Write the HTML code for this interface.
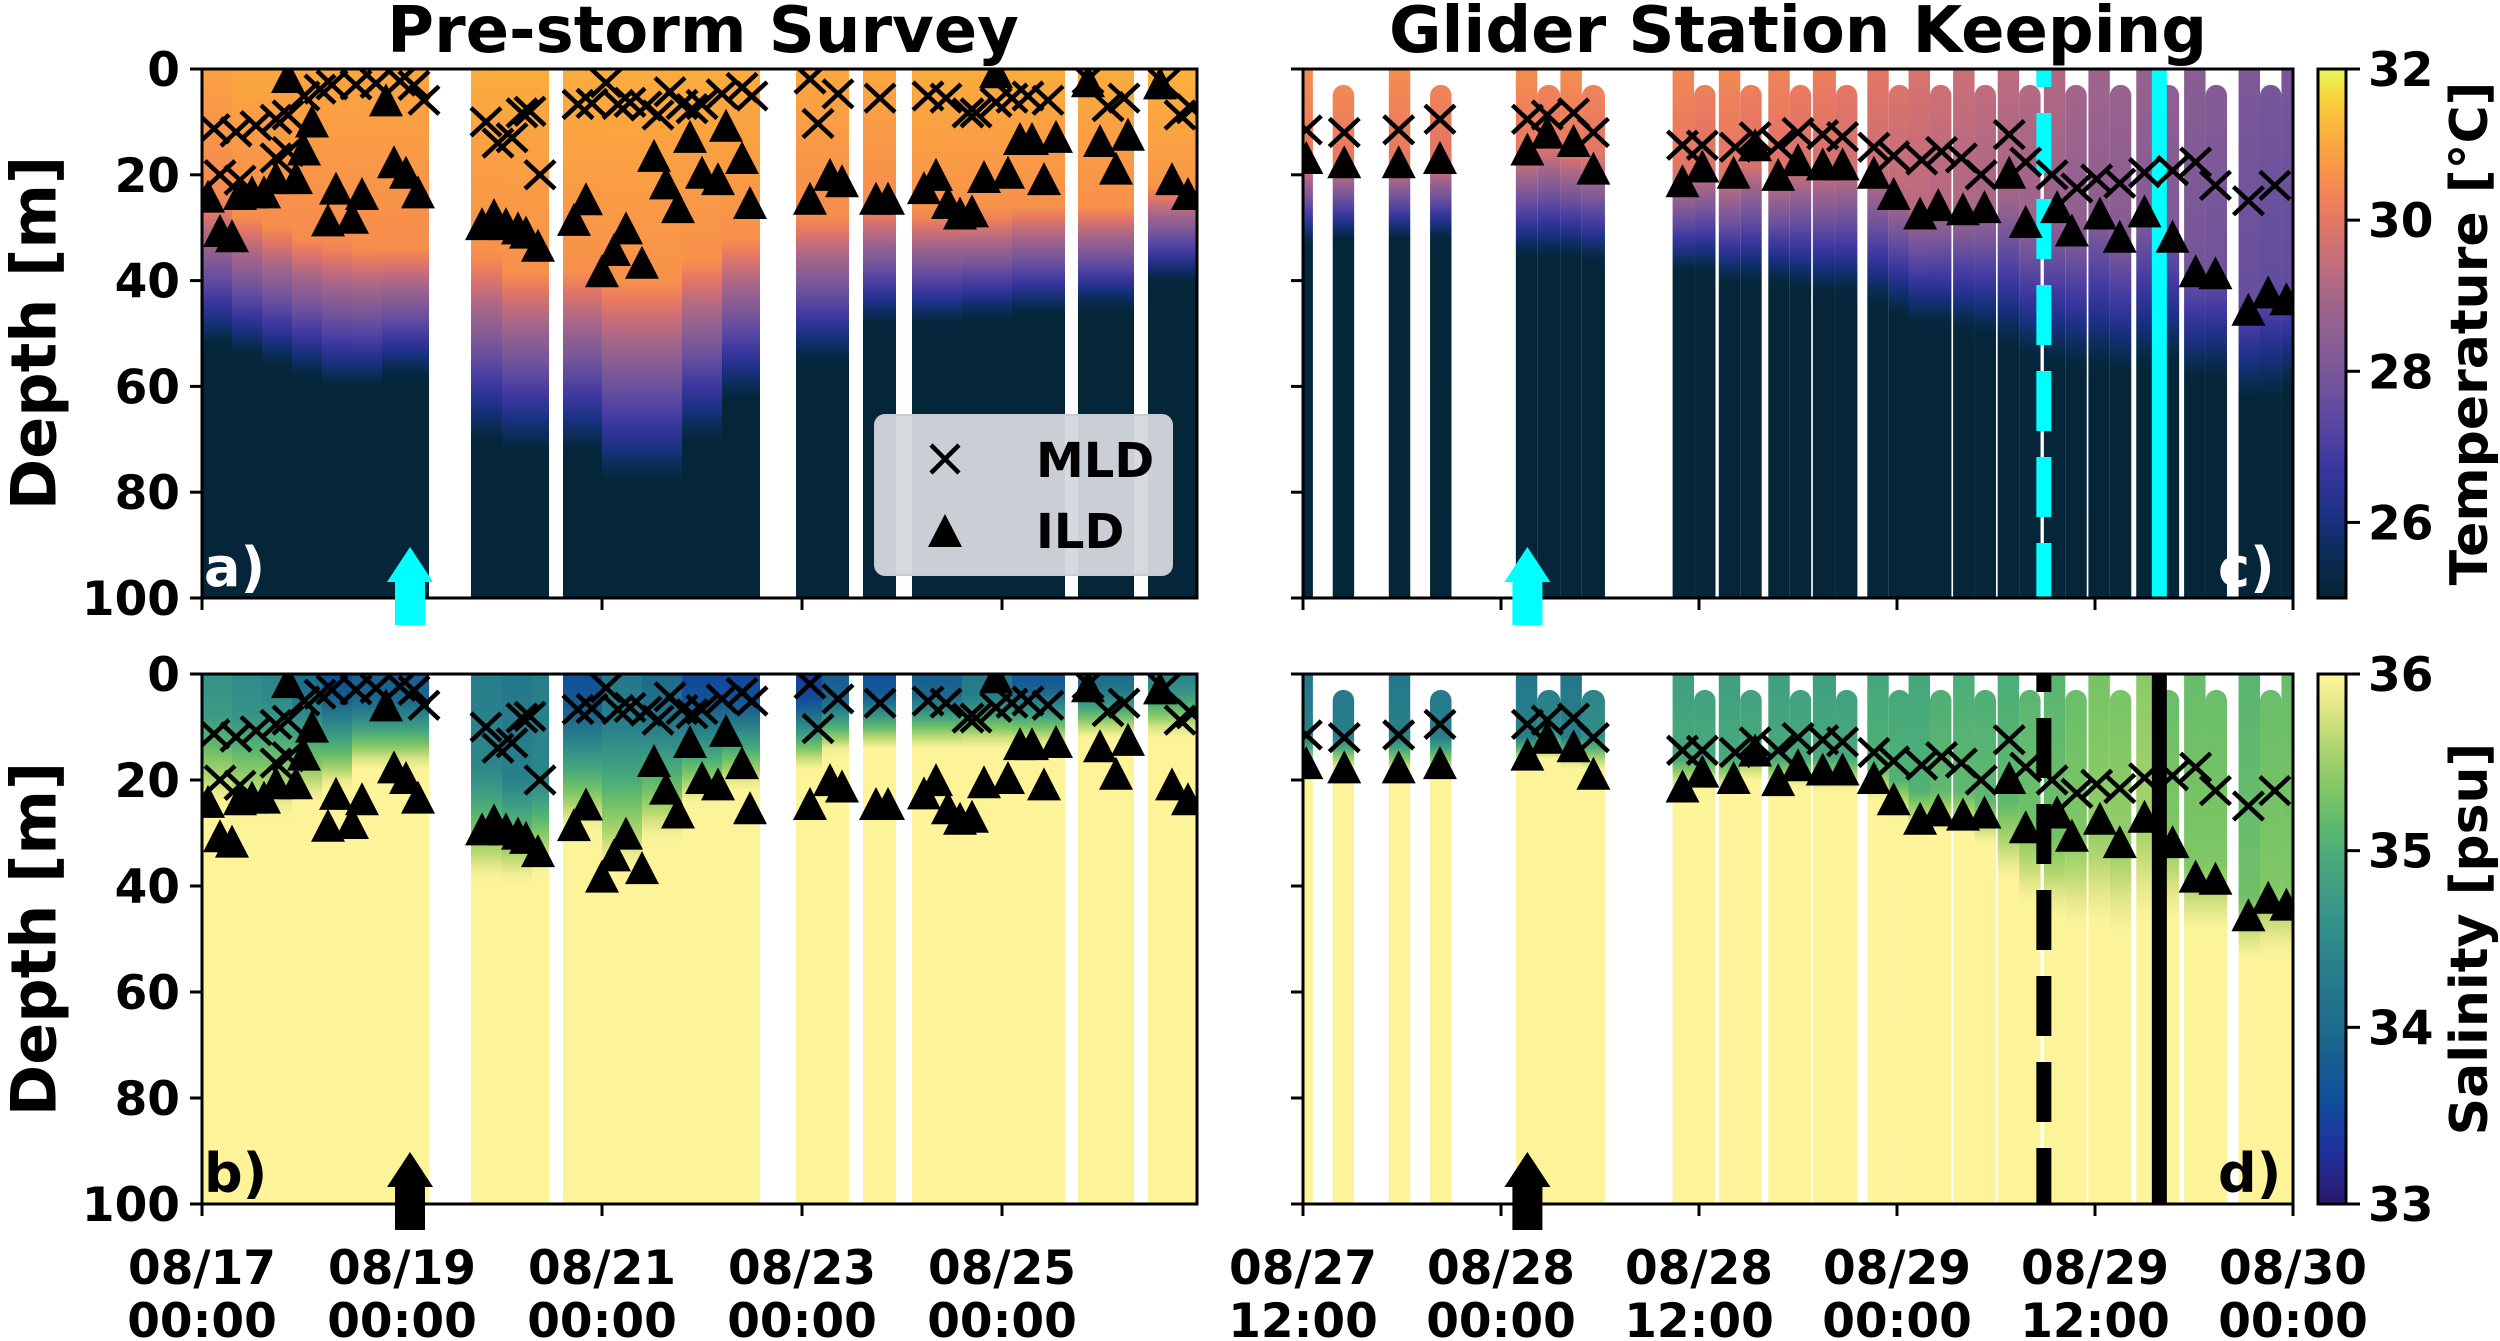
<!DOCTYPE html>
<html><head><meta charset="utf-8">
<style>
html,body{margin:0;padding:0;background:#fff;}
svg{display:block;font-family:"DejaVu Sans","Liberation Sans",sans-serif;font-weight:bold;}
</style></head>
<body>
<svg id="chart" width="2500" height="1341" viewBox="0 0 2500 1341" xmlns="http://www.w3.org/2000/svg">
<defs id="defs"></defs>
</svg>
<script>
// ---------- DATA ----------
const aStart = [0,0.3,0.6,0.9,1.2,1.5,1.8,2.1, 2.69,3.0,3.3, 3.61,4.0,4.4,4.8,5.2, 5.94,6.2, 6.61, 7.10,7.6,8.1, 8.76, 9.46];
const aEnd   = [0.3,0.6,0.9,1.2,1.5,1.8,2.1,2.27, 3.0,3.3,3.47, 4.0,4.4,4.8,5.2,5.58, 6.2,6.47, 6.94, 7.6,8.1,8.63, 9.32, 9.95];
const aT0    = [30.9,31.0,31.0,31.0,31.0,31.0,31.0,31.0, 31.1,31.1,31.1, 31.1,31.1,31.1,31.1,31.1, 31.0,31.0, 31.0, 31.1,31.1,31.1, 31.1, 31.2];
const aWarm  = [25,28,30,32,33,34,34,34, 35,38,38, 38,40,40,36,32, 28,28, 26, 27,27,26, 26, 22];
const aCold  = [52,54,56,58,60,60,58,58, 70,72,72, 72,78,78,70,62, 55,55, 48, 48,47,46, 45, 40];
const aS0    = [34.6,34.5,34.4,34.0,33.6,33.8,33.8,33.8, 34.3,34.2,34.3, 33.6,34.2,34.0,33.5,33.5, 33.4,33.8, 33.6, 33.8,34.2,33.7, 34.0, 34.4];
const aFresh = [8,8,6,4,4,5,5,5, 18,20,20, 6,10,8,5,5, 5,5, 4, 4,5,3, 3, 3];
const aSalt  = [26,28,28,25,22,18,18,18, 40,40,38, 30,38,32,25,22, 18,15, 14, 14,14,14, 12, 12];
const aMldDay = [0.12,0.34,0.54,0.74,0.86,1.02,1.18,1.30,1.54,1.74,1.98,2.12,2.22,0.18,0.38,0.74,0.86, 2.84,2.96,3.1,3.2,3.28,3.38, 3.76,3.9,4.04,4.16,4.28,4.44,4.56,4.68,4.8,4.9,5.0,5.2,5.4,5.5, 6.08,6.16,6.36, 6.78, 7.26,7.44,7.66,7.74,7.94,8.1,8.26,8.46, 8.86,9.06,9.22, 9.62,9.78,9.9];
const aMldDep = [11.3,11.9,10.7,9.5,8.7,5.1,3.8,3.0,3.0,2.7,2.3,3.1,5.9,20,21,16.8,15.6, 10,14,13,8.3,8,20, 6.7,6.5,2.6,6.7,6.3,7,8.7,4.3,6.7,7.5,6.7,4.7,3.5,5.1, 1.9,10.3,4.7, 5.5, 5.1,5.5,8.3,8.3,6.3,5.5,5.1,5.9, 1.9,7.1,5.5, 2.7,8.7,7.5];
const aIldDay = [0.06,0.18,0.3,0.38,0.5,0.62,0.74,0.86,0.94,1.02,1.1,1.26,1.34,1.5,1.6,1.84,1.92,2.04,2.16, 2.8,2.92,3.04,3.16,3.24,3.36, 3.72,3.84,4.0,4.12,4.24,4.4,4.52,4.64,4.76,4.88,5.0,5.16,5.24,5.4,5.48, 6.08,6.28,6.4, 6.74,6.86, 7.22,7.34,7.46,7.58,7.7,7.82,7.94,8.06,8.18,8.3,8.42,8.54, 8.86,8.98,9.14,9.26, 9.58,9.7,9.86];
const aIldDep = [24.5,31,32,24,23.7,23.7,21,1.9,21,15.6,10.3,29,23,28.5,24,6.3,18,20,23.7, 29.7,28,29.7,30.5,31.3,33.8, 28.9,25,38.6,34.6,30.5,37,16.8,22,26.5,13.2,20,21.2,11.1,17.2,25.7, 24.9,20.4,21.6, 24.9,24.9, 22.9,20.4,25.7,27.7,27.3,20.8,1,20,13.6,13.6,21.2,13.2, 2.7,14,19.2,12.8, 3.1,21.2,24];
const cStart = [0,1.8,5.2,7.7,12.9,14.2,15.6,16.9,22.4,23.7,25.2,26.5,28.2,29.5,30.9,32.3,34.2,35.5,36.7,38.0,39.4,40.7,42.1,43.4,44.9,46.2,47.6,48.9,50.5,51.8,53.4,54.7,56.7,58.0,59.3];
const cEnd   = [0.6,3.1,6.5,9.0,14.2,15.6,16.9,18.3,23.7,25.0,26.5,27.8,29.5,30.8,32.3,33.6,35.5,36.8,38.0,39.3,40.7,42.0,43.4,44.7,46.2,47.5,48.9,50.2,51.8,53.1,54.7,56.0,58.0,59.3,60];
const cTop   = [0,3,0,3,0,3,0,3,0,3,0,3,0,3,0,3,0,3,0,3,0,3,0,3,0,3,0,3,0,3,0,3,0,3,0];
const cT0    = [30.5,30.5,30.5,30.4,30.5,30.4,30.5,30.4,30.4,30.3,30.4,30.3,30.3,30.2,30.2,30.1,30.0,29.9,29.8,29.7,29.6,29.5,29.4,29.3,29.2,29.0,28.9,28.8,28.7,28.6,28.4,28.3,28.1,28.0,28.0];
const cWarm  = [18,18,18,18,16,15,16,17,20,19,20,18,20,19,19,19,20,23,26,26,26,26,24,28,28,30,28,32,28,30,38,38,44,42,42];
const cCold  = [33,32,32,32,35,35,35,36,38,38,40,40,40,41,42,42,44,46,48,48,49,50,52,54,55,56,56,57,56,55,58,58,62,62,60];
const cS0    = [34.2,34.2,34.2,34.2,34.2,34.3,34.2,34.4,34.8,34.8,34.8,34.8,34.8,34.8,34.8,34.8,34.9,34.9,34.9,35.0,35.0,35.0,35.0,35.1,35.1,35.2,35.3,35.3,35.4,35.2,35.2,35.2,35.1,35.2,35.2];
const cFresh = [12,12,12,12,12,11,12,12,16,16,16,14,16,16,16,16,17,20,22,22,22,24,24,28,30,30,30,32,30,30,36,36,42,40,40];
const cSalt  = [18,18,19,19,17,16,17,18,22,21,22,20,22,21,22,22,24,27,30,30,31,33,40,45,48,50,50,52,50,48,50,50,55,55,55];
const cMldHr = [0.2,2.5,5.8,8.3,13.6,14.8,16.4,17.6,23,24.2,26.2,27.4,28.8,30,31.5,32.7,34.6,35.8,37.5,38.7,39.9,41.1,42.8,43.8,45.4,46.9,48.1,49.5,51,52.7,54.1,55.3,57.3,58.9];
const cMldDep = [11.5,12,11.5,9.5,9.5,8.7,8.3,12,14.4,14.4,14.8,12.8,14.4,12,12.4,12.8,14.8,16.4,17.2,15.6,16.8,20,12.4,17.6,20,22.5,20.8,21.6,19.6,19.2,17.6,22,24.9,22];
const cIldHr = [0.2,2.5,5.8,8.3,13.6,14.8,16.4,17.6,23,24.2,26.1,27.4,28.8,30,31.5,32.7,34.6,35.8,37.4,38.5,40,41.3,42.8,43.8,45.7,46.6,48.3,49.5,51,52.7,54.1,55.3,57.3,58.5,59.6];
const cIldDep = [17.2,18,18,17.2,15.6,12.4,14,19.2,21.6,18.8,20,14.8,20.4,17.6,18.4,18.4,20,24,27.7,26.1,26.9,26.5,20,29.3,26.5,30.9,27.7,32.1,27.3,32.1,38.6,39,45.9,42.6,43.9];
const eventHr = [44.9, 51.9];
const arrowDay = 2.08;
const arrowHr = 13.6;
const depthTicks = [0,20,40,60,80,100];
const aTickDays = [0,2,4,6,8];
const aTickLab1 = ["08/17","08/19","08/21","08/23","08/25"];
const cTickHrs = [0,12,24,36,48,60];
const cTickLab1 = ["08/27","08/28","08/28","08/29","08/29","08/30"];
const cTickLab2 = ["12:00","00:00","12:00","00:00","12:00","00:00"];
const tempTicks = [26,28,30,32];
const salTicks = [33,34,35,36];

// ---------- HELPERS ----------
const NS = "http://www.w3.org/2000/svg";
const svg = document.getElementById('chart');
const defs = document.getElementById('defs');
function mk(tag, attrs, parent){ const e=document.createElementNS(NS,tag); for(const k in attrs) e.setAttribute(k,attrs[k]); (parent||svg).appendChild(e); return e; }
const thermal=[[0,4,35,51],[0.08,10,45,85],[0.15,25,48,130],[0.25,60,55,160],[0.35,95,75,160],[0.45,128,90,150],[0.55,158,100,140],[0.63,192,108,125],[0.72,232,120,98],[0.8,248,145,75],[0.88,252,175,58],[0.95,247,213,60],[1,232,250,91]];
const haline=[[0,42,24,108],[0.1,31,48,156],[0.2,16,80,155],[0.33,30,106,140],[0.45,40,128,138],[0.55,55,148,135],[0.67,76,174,120],[0.77,120,196,100],[0.87,180,215,110],[0.94,230,232,140],[1,253,244,154]];
function cmap(m,t){ t=Math.max(0,Math.min(1,t)); for(let i=1;i<m.length;i++){ if(t<=m[i][0]){ const a=m[i-1],b=m[i],f=(t-a[0])/(b[0]-a[0]); return 'rgb('+[1,2,3].map(k=>Math.round(a[k]+(b[k]-a[k])*f)).join(',')+')'; } } return 'rgb(253,244,154)'; }
function tempAt(d,T0,w,c){ if(d<=w) return T0-0.5*d/w; if(d<=c){const f=(d-w)/(c-w); return (T0-0.5)+(25.15-(T0-0.5))*f;} return 25.1; }
function salAt(d,S0,fr,sa){ if(d<=fr) return S0+0.15*d/fr; if(d<=sa){const f=(d-fr)/(sa-fr); return (S0+0.15)+(36.1-(S0+0.15))*f;} return 36.1; }
let gid=0;
function grad(P, fn, m, lo, hi){
  const id='g'+(gid++);
  const g=mk('linearGradient',{id:id,gradientUnits:'userSpaceOnUse',x1:0,x2:0,y1:P.y0,y2:P.y1},defs);
  for(let d=0; d<=100; d+=2){ mk('stop',{offset:(d/100),'stop-color':cmap(m,(fn(d)-lo)/(hi-lo))},g); }
  return id;
}
const PA={x0:202,x1:1197,v0:0,v1:9.95,y0:69,y1:598};
const PB={x0:202,x1:1197,v0:0,v1:9.95,y0:674,y1:1204};
const PC={x0:1303,x1:2293,v0:0,v1:60,y0:69,y1:598};
const PD={x0:1303,x1:2293,v0:0,v1:60,y0:674,y1:1204};
const X=(P,v)=>P.x0+(v-P.v0)/(P.v1-P.v0)*(P.x1-P.x0);
const Y=(P,d)=>P.y0+d/100*(P.y1-P.y0);

function panel(P,name){
  const cid='clip'+name;
  const cp=mk('clipPath',{id:cid},defs); mk('rect',{x:P.x0,y:P.y0,width:P.x1-P.x0,height:P.y1-P.y0},cp);
  const g=mk('g',{'clip-path':'url(#'+cid+')'});
  
  
  return g;
}
function markers(g,P,days,deps,kind){
  for(let i=0;i<days.length;i++){
    const x=X(P,days[i]), y=Y(P,deps[i]);
    let e;
    if(kind==='mld'){ e=mk('path',{d:`M${x-15},${y-14}L${x+15},${y+14}M${x-15},${y+14}L${x+15},${y-14}`,stroke:'#000','stroke-width':4.5,fill:'none'},g); }
    else { e=mk('path',{d:`M${x},${y-19}L${x+17},${y+14}L${x-17},${y+14}Z`,fill:'#000'},g); }
    
    
  }
}
function frame(P,name,yLabels){
  const r=mk('rect',{x:P.x0,y:P.y0,width:P.x1-P.x0,height:P.y1-P.y0,fill:'none',stroke:'#000','stroke-width':3});
  
  
  depthTicks.forEach(t=>{
    const y=Y(P,t);
    const tk=mk('line',{x1:P.x0-12,x2:P.x0,y1:y,y2:y,stroke:'#000','stroke-width':3});
    
    
    if(yLabels){
      const tx=mk('text',{x:180,y:y+17,'text-anchor':'end','font-size':47}); tx.textContent=t;
      
      
    }
  });
}
function arrow(P,v,color,tip){
  const x=X(P,v);
  const a=mk('path',{d:`M${x},${tip}L${x+23},${tip+35}L${x+15},${tip+35}L${x+15},${tip+78}L${x-15},${tip+78}L${x-15},${tip+35}L${x-23},${tip+35}Z`,fill:color});
  
  
}

// ---------- PANELS A,B ----------
const gA=panel(PA,'a'); const gB=panel(PB,'b');
for(let i=0;i<aStart.length;i++){
  const x=X(PA,aStart[i]), w=X(PA,aEnd[i])-x;
  const idT=grad(PA,d=>tempAt(d,aT0[i],aWarm[i],aCold[i]),thermal,25,32);
  const r=mk('rect',{x:x,y:PA.y0,width:w,height:PA.y1-PA.y0,fill:'url(#'+idT+')'},gA);
  
  
  const idS=grad(PB,d=>salAt(d,aS0[i],aFresh[i],aSalt[i]),haline,33,36);
  const r2=mk('rect',{x:x,y:PB.y0,width:w,height:PB.y1-PB.y0,fill:'url(#'+idS+')'},gB);
  
  
}
markers(gA,PA,aMldDay,aMldDep,'mld'); markers(gA,PA,aIldDay,aIldDep,'ild');
markers(gB,PB,aMldDay,aMldDep,'mld'); markers(gB,PB,aIldDay,aIldDep,'ild');

// ---------- PANELS C,D ----------
const gC=panel(PC,'c'); const gD=panel(PD,'d');
for(let i=0;i<cStart.length;i++){
  const x=X(PC,cStart[i]), w=X(PC,cEnd[i])-x;
  const top=cTop[i]>0?cTop[i]:-10;
  const idT=grad(PC,d=>tempAt(d,cT0[i],cWarm[i],cCold[i]),thermal,25,32);
  const r=mk('rect',{x:x,y:Y(PC,top),width:w,height:(PC.y1-Y(PC,top))+40,rx:w/2,ry:w/2,fill:'url(#'+idT+')'},gC);
  
  
  const idS=grad(PD,d=>salAt(d,cS0[i],cFresh[i],cSalt[i]),haline,33,36);
  const r2=mk('rect',{x:x,y:Y(PD,top),width:w,height:(PD.y1-Y(PD,top))+40,rx:w/2,ry:w/2,fill:'url(#'+idS+')'},gD);
  
  
}
[[gC,PC,'#00ffff'],[gD,PD,'#000']].forEach(([g,P,col])=>{
  const l1=mk('line',{x1:X(P,eventHr[0]),x2:X(P,eventHr[0]),y1:P.y0,y2:P.y1,stroke:col,'stroke-width':15,'stroke-dasharray':'60,26','stroke-dashoffset':'42'},g);
  
  
  const l2=mk('line',{x1:X(P,eventHr[1]),x2:X(P,eventHr[1]),y1:P.y0,y2:P.y1,stroke:col,'stroke-width':15},g);
  
  
});
markers(gC,PC,cMldHr,cMldDep,'mld'); markers(gC,PC,cIldHr,cIldDep,'ild');
markers(gD,PD,cMldHr,cMldDep,'mld'); markers(gD,PD,cIldHr,cIldDep,'ild');

// ---------- AXES ----------
frame(PA,'a',true); frame(PB,'b',true); frame(PC,'c',false); frame(PD,'d',false);
[[PA,aTickDays],[PB,aTickDays],[PC,cTickHrs],[PD,cTickHrs]].forEach(([P,ts])=>{
  ts.forEach(t=>{ const x=X(P,t); const tk=mk('line',{x1:x,x2:x,y1:P.y1,y2:P.y1+12,stroke:'#000','stroke-width':3});
    
     });
});
aTickDays.forEach((t,i)=>{
  const x=X(PB,t);
  const t1=mk('text',{x:x,y:1284,'text-anchor':'middle','font-size':47}); t1.textContent=aTickLab1[i];
  
  
  const t2=mk('text',{x:x,y:1337,'text-anchor':'middle','font-size':47}); t2.textContent='00:00';
  
  
});
cTickHrs.forEach((t,i)=>{
  const x=X(PD,t);
  const t1=mk('text',{x:x,y:1284,'text-anchor':'middle','font-size':47}); t1.textContent=cTickLab1[i];
  
  
  const t2=mk('text',{x:x,y:1337,'text-anchor':'middle','font-size':47}); t2.textContent=cTickLab2[i];
  
  
});

arrow(PA,arrowDay,'#00ffff',547); arrow(PC,arrowHr,'#00ffff',547);
arrow(PB,arrowDay,'#000',1152); arrow(PD,arrowHr,'#000',1152);

// ---------- COLORBARS ----------
function colorbar(P,m,lo,hi,ticks,label,name){
  const id='cb'+name;
  const g=mk('linearGradient',{id:id,x1:0,x2:0,y1:1,y2:0},defs);
  for(let i=0;i<=20;i++) mk('stop',{offset:i/20,'stop-color':cmap(m,i/20)},g);
  const r=mk('rect',{x:2318,y:P.y0,width:28,height:P.y1-P.y0,fill:'url(#'+id+')',stroke:'#000','stroke-width':3});
  
  
  ticks.forEach(t=>{
    const y=P.y1-(t-lo)/(hi-lo)*(P.y1-P.y0);
    const tk=mk('line',{x1:2346,x2:2360,y1:y,y2:y,stroke:'#000','stroke-width':3});
    
    
    const tx=mk('text',{x:2368,y:y+17,'font-size':47}); tx.textContent=t;
    
    
  });
  const cy=(P.y0+P.y1)/2;
  const lb=mk('text',{x:2470,y:cy,'text-anchor':'middle','font-size':52,transform:`rotate(-90 2470 ${cy})`,'dominant-baseline':'central'}); lb.textContent=label;
  
  
}
colorbar(PA,thermal,25,32,tempTicks,'Temperature [°C]','temperature');
colorbar(PB,haline,33,36,salTicks,'Salinity [psu]','salinity');

// ---------- TITLES / LABELS ----------
function txt(x,y,s,size,attrs,name){ const t=mk('text',Object.assign({x:x,y:y,'font-size':size},attrs||{})); t.textContent=s;
  
   return t; }
txt(703,52,'Pre-storm Survey',64,{'text-anchor':'middle'},'title-pre-storm-survey');
txt(1798,52,'Glider Station Keeping',64,{'text-anchor':'middle'},'title-glider-station-keeping');
txt(34,333,'Depth [m]',62,{'text-anchor':'middle',transform:'rotate(-90 34 333)','dominant-baseline':'central'},'y-axis-title-top');
txt(34,939,'Depth [m]',62,{'text-anchor':'middle',transform:'rotate(-90 34 939)','dominant-baseline':'central'},'y-axis-title-bottom');
txt(204,586,'a)',54,{fill:'#fff'},'panel-label-a');
txt(2218,586,'c)',54,{fill:'#fff'},'panel-label-c');
txt(204,1192,'b)',54,{fill:'#000'},'panel-label-b');
txt(2218,1192,'d)',54,{fill:'#000'},'panel-label-d');

// ---------- LEGEND ----------
const lg=mk('g',{});


mk('rect',{x:875,y:415,width:297,height:160,rx:10,fill:'#d4d8dd','fill-opacity':0.95,stroke:'#c8ccd0','stroke-width':2},lg);
const lx=mk('path',{d:'M931,445L959,473M931,473L959,445',stroke:'#000','stroke-width':4.5,fill:'none'},lg);


const lt=mk('path',{d:'M945,514L962,547L928,547Z',fill:'#000'},lg);


const m1=mk('text',{x:1036,y:477,'font-size':48},lg); m1.textContent='MLD';


const m2=mk('text',{x:1036,y:548,'font-size':48},lg); m2.textContent='ILD';


</script>
</body></html>
